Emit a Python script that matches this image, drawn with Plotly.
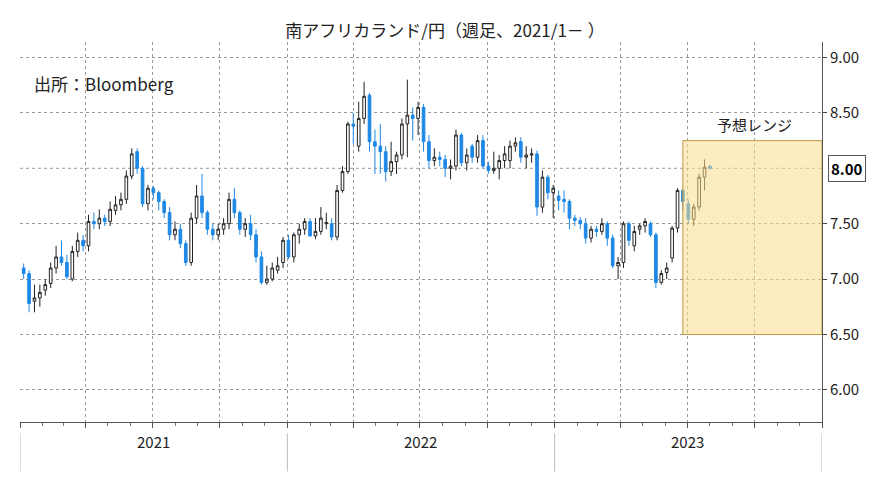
import plotly.graph_objects as go
import pandas as pd

# weekly candles (open, high, low, close)
ohlc = [
    (7.10, 7.14, 7.00, 7.05), (7.05, 7.08, 6.70, 6.78), (6.80, 6.95, 6.70, 6.83), (6.83, 6.95, 6.75, 6.88),
    (6.90, 7.00, 6.85, 6.95), (6.96, 7.15, 6.92, 7.10), (7.10, 7.30, 7.05, 7.20), (7.20, 7.35, 7.12, 7.15),
    (7.15, 7.22, 7.00, 7.02), (7.00, 7.30, 6.98, 7.25), (7.25, 7.42, 7.20, 7.35), (7.35, 7.40, 7.25, 7.30),
    (7.30, 7.58, 7.25, 7.52), (7.52, 7.60, 7.45, 7.50), (7.50, 7.63, 7.45, 7.55), (7.55, 7.58, 7.48, 7.52),
    (7.52, 7.70, 7.48, 7.63), (7.62, 7.75, 7.58, 7.67), (7.67, 7.78, 7.62, 7.72), (7.72, 7.98, 7.68, 7.93),
    (7.93, 8.18, 7.90, 8.13), (8.15, 8.18, 7.95, 8.00), (8.00, 8.02, 7.65, 7.68), (7.68, 7.85, 7.62, 7.82),
    (7.82, 7.84, 7.72, 7.78), (7.78, 7.80, 7.62, 7.70), (7.70, 7.72, 7.55, 7.60), (7.60, 7.65, 7.35, 7.40),
    (7.40, 7.52, 7.35, 7.45), (7.45, 7.50, 7.28, 7.32), (7.32, 7.35, 7.12, 7.15), (7.15, 7.60, 7.12, 7.55),
    (7.55, 7.85, 7.50, 7.75), (7.75, 7.95, 7.55, 7.60), (7.60, 7.62, 7.40, 7.45), (7.45, 7.50, 7.35, 7.40),
    (7.40, 7.50, 7.35, 7.45), (7.45, 7.55, 7.40, 7.50), (7.50, 7.78, 7.45, 7.72), (7.72, 7.82, 7.55, 7.60),
    (7.60, 7.62, 7.40, 7.45), (7.45, 7.55, 7.38, 7.50), (7.50, 7.58, 7.35, 7.40), (7.40, 7.45, 7.15, 7.20),
    (7.20, 7.25, 6.95, 6.97), (6.97, 7.12, 6.95, 7.00), (7.00, 7.15, 6.98, 7.10), (7.08, 7.20, 7.05, 7.12),
    (7.15, 7.38, 7.10, 7.35), (7.35, 7.40, 7.18, 7.20), (7.20, 7.42, 7.15, 7.40), (7.40, 7.50, 7.32, 7.45),
    (7.45, 7.55, 7.40, 7.52), (7.52, 7.55, 7.38, 7.39), (7.39, 7.55, 7.36, 7.43), (7.43, 7.65, 7.40, 7.55),
    (7.50, 7.60, 7.45, 7.51), (7.50, 7.55, 7.35, 7.38), (7.38, 7.85, 7.35, 7.80), (7.80, 8.02, 7.78, 7.97),
    (7.97, 8.42, 7.95, 8.40), (8.40, 8.50, 8.22, 8.38), (8.20, 8.60, 8.15, 8.45), (8.45, 8.78, 8.40, 8.65),
    (8.66, 8.68, 8.15, 8.24), (8.24, 8.35, 7.95, 8.20), (8.20, 8.40, 7.95, 8.15), (8.15, 8.20, 7.88, 7.97),
    (7.97, 8.24, 7.93, 8.06), (8.06, 8.15, 7.95, 8.12), (8.12, 8.45, 8.08, 8.40), (8.40, 8.80, 8.10, 8.48),
    (8.48, 8.55, 8.25, 8.45), (8.45, 8.60, 8.30, 8.55), (8.55, 8.58, 8.15, 8.24), (8.24, 8.30, 8.00, 8.07),
    (8.07, 8.18, 8.02, 8.10), (8.10, 8.15, 8.02, 8.08), (8.08, 8.12, 7.92, 8.00), (8.00, 8.08, 7.90, 8.02),
    (8.02, 8.35, 7.98, 8.30), (8.30, 8.32, 8.02, 8.05), (8.05, 8.18, 7.98, 8.12), (8.20, 8.22, 8.05, 8.10),
    (8.10, 8.30, 8.05, 8.25), (8.25, 8.30, 8.00, 8.02), (8.02, 8.06, 7.95, 7.98), (7.98, 8.15, 7.95, 8.00),
    (8.00, 8.12, 7.90, 8.07), (8.07, 8.20, 8.00, 8.13), (8.07, 8.25, 8.00, 8.20), (8.20, 8.28, 8.15, 8.23),
    (8.24, 8.28, 8.05, 8.10), (8.10, 8.20, 8.00, 8.12), (8.12, 8.18, 8.05, 8.13), (8.13, 8.16, 7.57, 7.65),
    (7.65, 7.98, 7.60, 7.92), (7.92, 7.94, 7.72, 7.78), (7.78, 7.85, 7.55, 7.82), (7.75, 7.80, 7.62, 7.71),
    (7.72, 7.80, 7.60, 7.70), (7.70, 7.72, 7.45, 7.55), (7.55, 7.58, 7.48, 7.53), (7.53, 7.56, 7.45, 7.50),
    (7.50, 7.55, 7.32, 7.37), (7.37, 7.48, 7.33, 7.45), (7.45, 7.48, 7.38, 7.43), (7.43, 7.55, 7.40, 7.50),
    (7.50, 7.52, 7.30, 7.37), (7.37, 7.40, 7.10, 7.12), (7.12, 7.20, 7.00, 7.15), (7.15, 7.52, 7.10, 7.50),
    (7.50, 7.52, 7.30, 7.35), (7.30, 7.48, 7.25, 7.43), (7.45, 7.50, 7.40, 7.48), (7.48, 7.55, 7.42, 7.52),
    (7.50, 7.52, 7.38, 7.40), (7.40, 7.42, 6.92, 6.97), (6.97, 7.08, 6.95, 7.05), (7.06, 7.15, 7.00, 7.10),
    (7.19, 7.48, 7.15, 7.46), (7.46, 7.82, 7.42, 7.80), (7.80, 7.82, 7.62, 7.70), (7.68, 7.72, 7.50, 7.54),
    (7.54, 7.68, 7.48, 7.65), (7.65, 7.95, 7.62, 7.92), (7.92, 8.08, 7.80, 8.01), (8.02, 8.03, 7.99, 8.00),
]
opens = [r[0] for r in ohlc]
highs = [r[1] for r in ohlc]
lows = [r[2] for r in ohlc]
closes = [r[3] for r in ohlc]
dates = pd.date_range("2021-01-06", "2023-08-01", periods=len(ohlc))

years = ["2021", "2022", "2023"]
year_mid = ["2021-07-02", "2022-07-02", "2023-07-02"]
year_edges = ["2021-01-01", "2022-01-01", "2023-01-01", "2024-01-01"]
y_ticks = [6.0, 6.5, 7.0, 7.5, 8.5, 9.0]
last_value = 8.00
range_lo, range_hi = 6.50, 8.25
range_start, range_end = "2023-06-25", "2024-01-01"

font = "Noto Sans CJK JP"
blue = "#1E88E5"

fig = go.Figure(go.Candlestick(
    x=dates, open=opens, high=highs, low=lows, close=closes,
    increasing=dict(fillcolor="white", line=dict(color="#222222", width=1)),
    decreasing=dict(fillcolor=blue, line=dict(color=blue, width=1)),
    whiskerwidth=0, showlegend=False,
))

# forecast range box
fig.add_shape(type="rect", x0=range_start, x1=range_end, y0=range_lo, y1=range_hi,
              xref="x", yref="y", layer="above",
              fillcolor="rgba(250,220,140,0.55)", line=dict(color="#C09A40", width=1))
fig.add_annotation(text="予想レンジ", x="2023-10-01", y=range_hi, yanchor="bottom", yshift=4,
                   showarrow=False, font=dict(size=15, color="#222222"))

# current value label on right axis
fig.add_annotation(text=f"<b>{last_value:.2f}</b>", xref="paper", x=1.0, xanchor="left", xshift=6,
                   y=last_value, showarrow=False, font=dict(size=15, color="black"),
                   bgcolor="white", bordercolor="#555555", borderwidth=1, borderpad=2)

fig.add_annotation(text="出所：Bloomberg", xref="paper", yref="paper", x=0.015, y=0.93,
                   xanchor="left", showarrow=False, font=dict(size=17, color="#222222"))

for yr, mid in zip(years, year_mid):
    fig.add_annotation(text=yr, x=mid, yref="paper", y=-0.085, showarrow=False,
                       font=dict(size=15, color="#222222"))
for edge in year_edges:
    fig.add_shape(type="line", x0=edge, x1=edge, yref="paper", y0=-0.03, y1=-0.13,
                  line=dict(color="#BBBBBB", width=1))

fig.update_layout(
    width=874, height=492,
    margin=dict(l=12, r=60, t=34, b=78),
    plot_bgcolor="white", paper_bgcolor="white",
    font=dict(family=font, color="#222222"),
    title=dict(text="南アフリカランド/円（週足、2021/1－ ）", x=0.5, xanchor="center", y=0.965,
               font=dict(size=17, color="#222222")),
    xaxis=dict(range=["2021-01-01", "2024-01-01"], rangeslider_visible=False,
               tick0="2021-01-01", dtick="M3", showticklabels=False,
               showgrid=True, gridcolor="#999999", griddash="dot", gridwidth=1,
               showline=True, linecolor="#555555", ticks="outside", ticklen=5, tickcolor="#555555",
               minor=dict(dtick="M1", ticks="outside", ticklen=3, tickcolor="#777777", showgrid=False)),
    yaxis=dict(side="right", range=[5.71, 9.14], tickvals=y_ticks, tickformat=".2f",
               tickfont=dict(size=15), showgrid=True, gridcolor="#999999", griddash="dot",
               showline=True, linecolor="#555555", ticks="outside", ticklen=4, zeroline=False),
)
fig.add_hline(y=last_value, line=dict(color="#999999", width=1, dash="dot"), layer="below")

fig.write_html("out.html")
